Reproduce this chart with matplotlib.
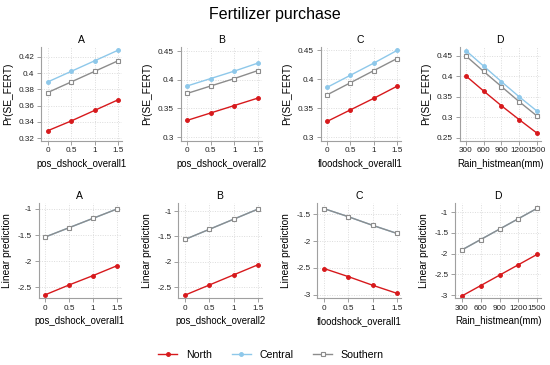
import matplotlib
matplotlib.use("Agg")
import matplotlib.pyplot as plt
from matplotlib.lines import Line2D

plt.rcParams["font.family"] = ["Liberation Sans", "DejaVu Sans"]

# ---- data ----
shock_x = [0, 0.5, 1, 1.5]
rain_x = [300, 600, 900, 1200, 1500]

regions = ["North", "Central", "Southern"]

# top row: Pr(SE_FERT)
pr_a = {"North": [0.329, 0.341, 0.354, 0.367],
        "Central": [0.389, 0.402, 0.415, 0.428],
        "Southern": [0.376, 0.389, 0.402, 0.415]}
pr_b = {"North": [0.329, 0.342, 0.355, 0.368],
        "Central": [0.389, 0.402, 0.415, 0.429],
        "Southern": [0.376, 0.389, 0.402, 0.416]}
pr_c = {"North": [0.327, 0.347, 0.367, 0.388],
        "Central": [0.386, 0.407, 0.428, 0.450],
        "Southern": [0.373, 0.394, 0.415, 0.436]}
pr_d = {"North": [0.401, 0.364, 0.328, 0.294, 0.261],
        "Central": [0.463, 0.425, 0.387, 0.350, 0.315],
        "Southern": [0.450, 0.412, 0.375, 0.338, 0.303]}

# bottom row: linear prediction (Central sits under Southern)
lp_a = {"North": [-2.65, -2.46, -2.28, -2.09],
        "Central": [-1.54, -1.36, -1.18, -1.00],
        "Southern": [-1.54, -1.36, -1.18, -1.00]}
lp_b = {"North": [-2.66, -2.46, -2.26, -2.06],
        "Central": [-1.56, -1.36, -1.16, -0.96],
        "Southern": [-1.56, -1.36, -1.16, -0.96]}
lp_c = {"North": [-2.51, -2.66, -2.82, -2.97],
        "Central": [-1.40, -1.55, -1.71, -1.86],
        "Southern": [-1.40, -1.55, -1.71, -1.86]}
lp_d = {"North": [-3.02, -2.77, -2.52, -2.27, -2.02],
        "Central": [-1.91, -1.66, -1.41, -1.16, -0.91],
        "Southern": [-1.91, -1.66, -1.41, -1.16, -0.91]}

colors = {"North": "#d7191c", "Central": "#8ec8ea", "Southern": "#8c8c8c"}
markers = {"North": "o", "Central": "o", "Southern": "s"}
faces = {"North": "#d7191c", "Central": "#8ec8ea", "Southern": "white"}

W, H = 550, 365
fig = plt.figure(figsize=(W / 100, H / 100), dpi=100)
fig.patch.set_facecolor("white")

fig.text(0.5, 1 - 15 / H, "Fertilizer purchase", ha="center", va="center", fontsize=11.5)


def panel(px0, px1, ytop, ybot, x, series, xlim_pad, ylim, yticks, xticks,
          title, xlabel, ylabel):
    span = x[-1] - x[0]
    padl, padr = xlim_pad
    left = px0 - padl * (px1 - px0)
    right = px1 + padr * (px1 - px0)
    ax = fig.add_axes([left / W, 1 - ybot / H, (right - left) / W, (ybot - ytop) / H])
    for r in regions:
        ax.plot(x, series[r], color=colors[r], lw=1.0, marker=markers[r],
                ms=2.7, mfc=faces[r], mec=colors[r], mew=0.8)
    ax.set_xlim(x[0] - padl * span, x[-1] + padr * span)
    ax.set_ylim(*ylim)
    ax.set_xticks(xticks)
    ax.set_yticks(yticks)
    ax.set_xticklabels([("%g" % t) for t in xticks])
    ax.set_yticklabels([("%g" % t) for t in yticks])
    ax.grid(True, color="#dcdcdc", linestyle=(0, (1, 1.5)), linewidth=0.7)
    ax.set_axisbelow(True)
    for s in ["top", "right"]:
        ax.spines[s].set_visible(False)
    for s in ["left", "bottom"]:
        ax.spines[s].set_color("#a0a0a0")
        ax.spines[s].set_linewidth(0.8)
    ax.tick_params(length=3, width=0.7, color="#a0a0a0", labelsize=5.9,
                   labelcolor="#222222", pad=2)
    ax.set_title(title, fontsize=7.5, pad=3)
    ax.set_xlabel(xlabel, fontsize=6.9, labelpad=3)
    ax.set_ylabel(ylabel, fontsize=7.3, labelpad=4)
    return ax


pad = (0.09, 0.05)
# top row
panel(47.7, 118, 47, 140.5, shock_x, pr_a, pad, (0.317, 0.432),
      [0.32, 0.34, 0.36, 0.38, 0.4, 0.42], shock_x, "A", "pos_dshock_overall1", "Pr(SE_FERT)")
panel(187, 258, 47, 140.5, shock_x, pr_b, pad, (0.294, 0.457),
      [0.3, 0.35, 0.4, 0.45], shock_x, "B", "pos_dshock_overall2", "Pr(SE_FERT)")
panel(327, 397, 47, 140.5, shock_x, pr_c, pad, (0.294, 0.456),
      [0.3, 0.35, 0.4, 0.45], shock_x, "C", "floodshock_overall1", "Pr(SE_FERT)")
panel(466, 537, 47, 140.5, rain_x, pr_d, pad, (0.243, 0.472),
      [0.25, 0.3, 0.35, 0.4, 0.45], rain_x, "D", "Rain_histmean(mm)", "Pr(SE_FERT)")

# bottom row
panel(45, 117, 203, 298, shock_x, lp_a, pad, (-2.71, -0.885),
      [-2.5, -2, -1.5, -1], shock_x, "A", "pos_dshock_overall1", "Linear prediction")
panel(185, 258, 203, 298, shock_x, lp_b, pad, (-2.717, -0.84),
      [-2.5, -2, -1.5, -1], shock_x, "B", "pos_dshock_overall2", "Linear prediction")
panel(324, 397, 203, 298, shock_x, lp_c, pad, (-3.056, -1.296),
      [-3, -2.5, -2, -1.5], shock_x, "C", "floodshock_overall1", "Linear prediction")
panel(462, 537, 203, 298, rain_x, lp_d, pad, (-3.07, -0.78),
      [-3, -2.5, -2, -1.5, -1], rain_x, "D", "Rain_histmean(mm)", "Linear prediction")

handles = [Line2D([], [], color=colors[r], lw=1.0, marker=markers[r], ms=2.7,
                  mfc=faces[r], mec=colors[r], mew=0.8) for r in regions]
fig.legend(handles, regions, loc="center", bbox_to_anchor=(271 / W, 1 - 355 / H),
           ncol=3, frameon=False, fontsize=7.6, handlelength=1.8,
           columnspacing=1.9, handletextpad=0.8)

fig.savefig("out.png", dpi=100, facecolor="white")
